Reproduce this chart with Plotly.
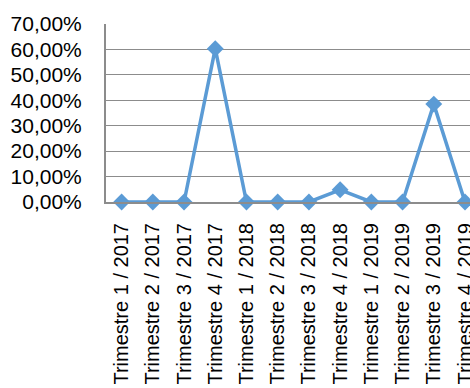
import plotly.graph_objects as go

categories = ["Trimestre 1 / 2017", "Trimestre 2 / 2017", "Trimestre 3 / 2017", "Trimestre 4 / 2017",
              "Trimestre 1 / 2018", "Trimestre 2 / 2018", "Trimestre 3 / 2018", "Trimestre 4 / 2018",
              "Trimestre 1 / 2019", "Trimestre 2 / 2019", "Trimestre 3 / 2019", "Trimestre 4 / 2019"]
values = [0.0, 0.0, 0.0, 0.603, 0.0, 0.0, 0.0, 0.048, 0.0, 0.0, 0.385, 0.0]
y_ticks = [0, 0.1, 0.2, 0.3, 0.4, 0.5, 0.6, 0.7]

fig = go.Figure()
fig.add_trace(go.Scatter(
    x=list(range(len(categories))), y=values, mode="lines+markers",
    line=dict(color="#5B9BD5", width=3.5),
    marker=dict(symbol="diamond", size=13, color="#5B9BD5"),
    cliponaxis=False, showlegend=False,
))

fig.update_layout(
    width=470, height=388,
    margin=dict(l=106, r=0, t=24, b=186),
    paper_bgcolor="white", plot_bgcolor="white",
    separators=", ",
    font=dict(family="Liberation Sans, Arial, sans-serif", size=21, color="black"),
)
fig.update_xaxes(
    tickmode="array", tickvals=list(range(len(categories))), ticktext=categories,
    range=[-0.5, 11.16], tickangle=-90, showgrid=False, zeroline=False,
    showline=True, linecolor="#8C8C8C", linewidth=2, ticks="",
    tickfont=dict(size=20),
    ticklabelstandoff=11, ticklabeloverflow="allow", automargin=False,
)
fig.update_yaxes(
    range=[0, 0.7], tickvals=y_ticks, tickformat=".2%",
    showgrid=True, gridcolor="#8C8C8C", gridwidth=1, zeroline=False,
    showline=True, linecolor="#8C8C8C", linewidth=2, ticks="",
    ticklabelstandoff=18, automargin=False,
)

fig.write_html("out.html")
